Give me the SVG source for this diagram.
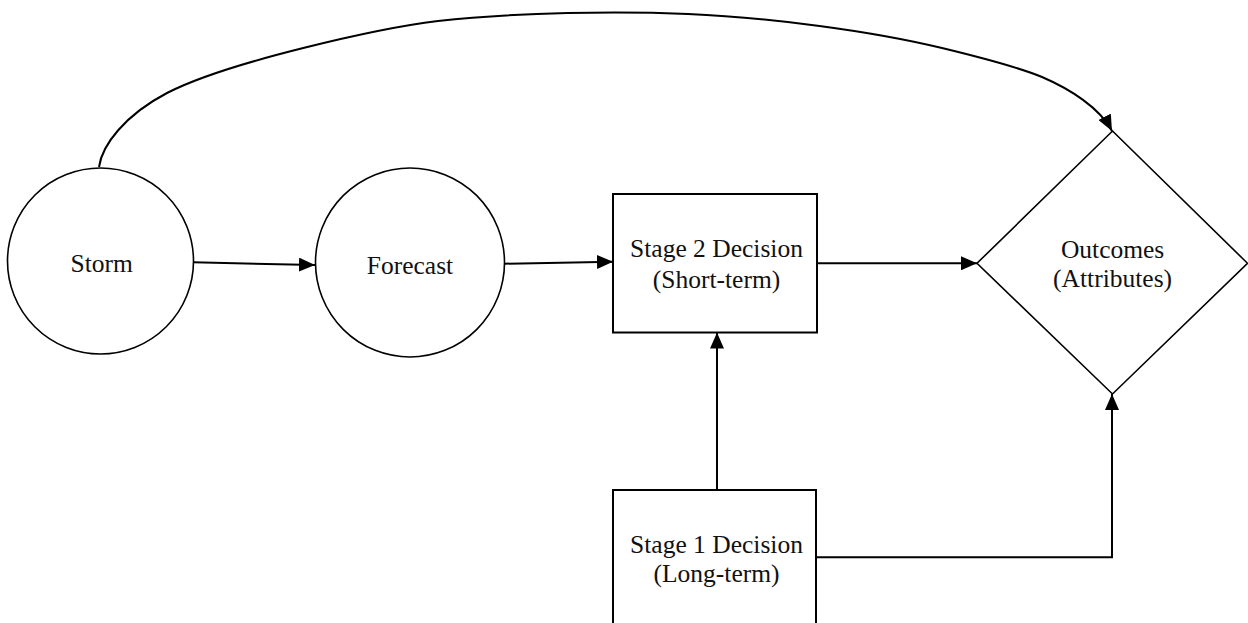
<svg xmlns="http://www.w3.org/2000/svg" width="1248" height="623" viewBox="0 0 1248 623">
  <style>
    .node { fill: #ffffff; stroke: #000000; stroke-width: 1.6; }
    .box { fill: #ffffff; stroke: #000000; stroke-width: 2; }
    .label { font-family: "Liberation Serif", "Times New Roman", serif; font-size: 25.5px; fill: #111111; text-anchor: middle; }
    .edge { fill: none; stroke: #000000; stroke-width: 2; }
  </style>
  <defs>
    <marker id="arrow" markerUnits="userSpaceOnUse" viewBox="0 0 16 14" markerWidth="16" markerHeight="14" refX="16" refY="7" orient="auto">
      <path d="M0,0 L16,7 L0,14 z" fill="#000000"/>
    </marker>
  </defs>

  <g id="connectors">
    <!-- Storm to Outcomes, arching over the top -->
    <path class="edge" marker-end="url(#arrow)" d="M99,167 C102,145 125,115 167,93 C227,62 380,28 438,21 C518,12 620,11.3 688,14 C770,17.5 872,31 942,48 C975,56 1017,66.5 1042,77 C1070,89 1100,108 1112,131"/>
    <path class="edge" marker-end="url(#arrow)" d="M193,262.3 L315,265"/>
    <path class="edge" marker-end="url(#arrow)" d="M505,263.7 L613,261.7"/>
    <path class="edge" marker-end="url(#arrow)" d="M817,263.3 L977,263.3"/>
    <path class="edge" marker-end="url(#arrow)" d="M717,490 L717,332.5"/>
    <path class="edge" marker-end="url(#arrow)" d="M816,557.3 L1112,557.3 L1112,394"/>
  </g>

  <g id="storm">
    <circle class="node" cx="100.5" cy="261" r="93"/>
    <text class="label" x="101.7" y="272.3">Storm</text>
  </g>

  <g id="forecast">
    <circle class="node" cx="410" cy="262.5" r="94.5"/>
    <text class="label" x="410" y="274">Forecast</text>
  </g>

  <g id="stage2">
    <rect class="box" x="613" y="194" width="204" height="138.5"/>
    <text class="label" x="716.5" y="257.3">Stage 2 Decision</text>
    <text class="label" x="716.5" y="288">(Short-term)</text>
  </g>

  <g id="stage1">
    <rect class="box" x="613" y="490" width="203" height="150"/>
    <text class="label" x="716.5" y="553">Stage 1 Decision</text>
    <text class="label" x="716.5" y="581.7">(Long-term)</text>
  </g>

  <g id="outcomes">
    <polygon class="node" points="1112.5,131 1247.5,263.3 1112.5,394 977,263.3"/>
    <text class="label" x="1112.6" y="257.7">Outcomes</text>
    <text class="label" x="1112.6" y="286.7">(Attributes)</text>
  </g>
</svg>
